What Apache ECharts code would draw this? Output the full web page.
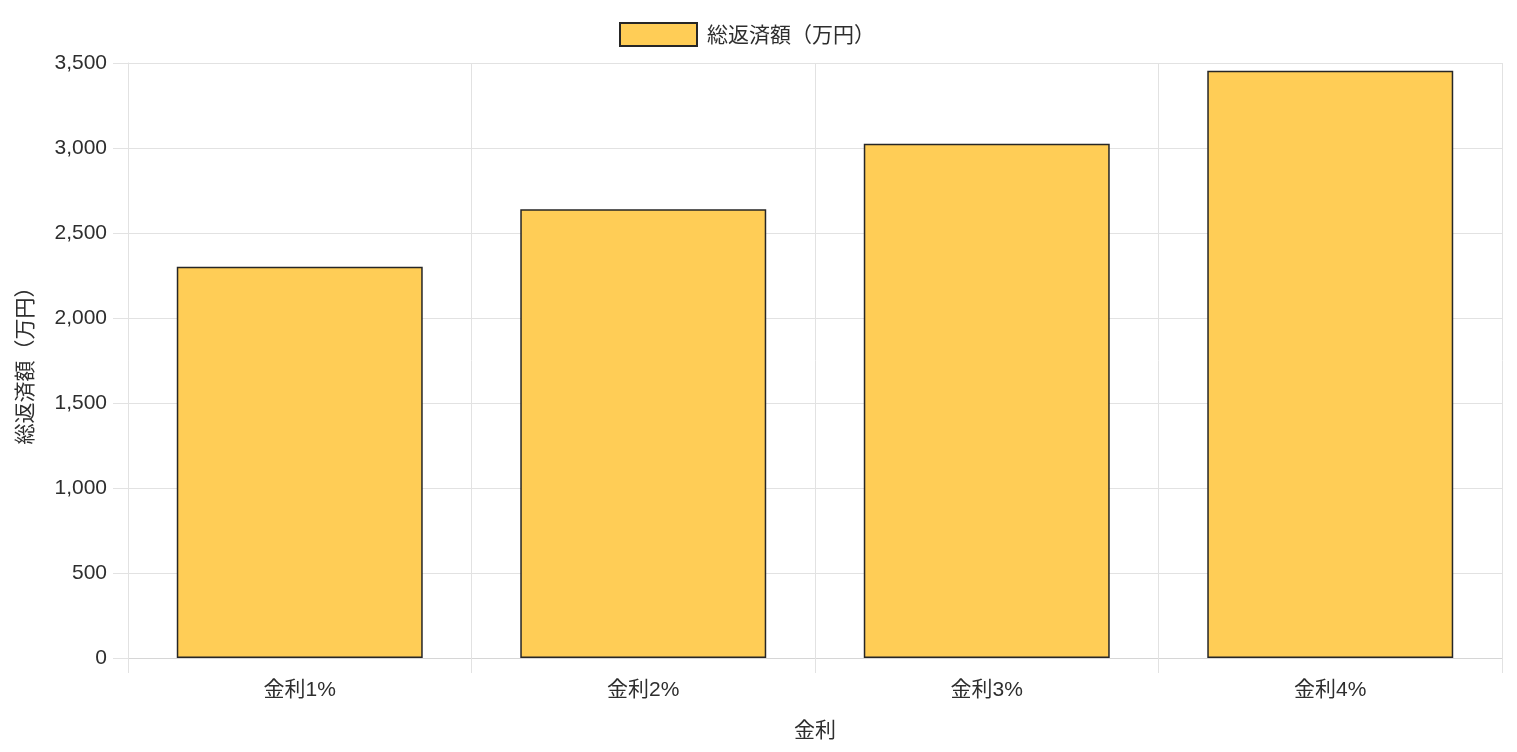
<!DOCTYPE html>
<html>
<head>
<meta charset="utf-8">
<script src="https://cdn.jsdelivr.net/npm/echarts@6/dist/echarts.min.js"></script>
<style>
html,body{margin:0;padding:0;background:#fff;}
#chart{width:1517px;height:752px;}
</style>
</head>
<body>
<div id="chart"></div>
<script>
const categories = ['金利1%', '金利2%', '金利3%', '金利4%'];
const totalRepayment = [2302, 2639, 3025, 3455];
const seriesName = '総返済額（万円）';
const yAxisTitle = '総返済額（万円）';
const xAxisTitle = '金利';

const FONT = "'Liberation Sans', Arial, 'Noto Sans CJK JP', sans-serif";
const CJK = "'Noto Sans CJK JP', 'Liberation Sans', sans-serif";
const TEXT = '#2e2e2e';
const GRID = '#e2e2e2';

const chart = echarts.init(document.getElementById('chart'), null, {renderer: 'canvas'});
chart.setOption({
  animation: false,
  textStyle: {fontFamily: FONT},
  legend: {
    top: 17,
    left: 614,
    icon: 'rect',
    itemWidth: 77,
    itemHeight: 23,
    itemGap: 10,
    textStyle: {fontSize: 21, color: TEXT, fontFamily: CJK, padding: [0, 0, 0, 5]},
    data: [seriesName]
  },
  grid: {left: 128, right: 15, top: 63, bottom: 94, containLabel: false},
  xAxis: {
    type: 'category',
    data: categories,
    boundaryGap: true,
    name: xAxisTitle,
    nameLocation: 'middle',
    nameGap: 61,
    nameTextStyle: {fontSize: 21, color: TEXT, fontFamily: CJK},
    axisLine: {show: true, lineStyle: {color: '#d6d6d6', width: 1}},
    axisTick: {show: true, length: 15, lineStyle: {color: GRID}},
    splitLine: {show: true, lineStyle: {color: GRID}},
    axisLabel: {fontSize: 21, color: TEXT, margin: 22, fontFamily: FONT}
  },
  yAxis: {
    type: 'value',
    min: 0,
    max: 3500,
    interval: 500,
    name: yAxisTitle,
    nameLocation: 'middle',
    nameGap: 93,
    nameTextStyle: {fontSize: 21, color: TEXT, fontFamily: CJK},
    axisLine: {show: true, lineStyle: {color: GRID, width: 1}},
    axisTick: {show: true, length: 15, lineStyle: {color: GRID}},
    splitLine: {show: true, lineStyle: {color: GRID}},
    axisLabel: {
      fontSize: 21, color: TEXT, margin: 21, fontFamily: FONT,
      formatter: v => v.toLocaleString('en-US')
    }
  },
  series: [{
    name: seriesName,
    type: 'bar',
    data: totalRepayment,
    barCategoryGap: '28.4%',
    itemStyle: {color: '#FFCD56', borderColor: '#262626', borderWidth: 1.5}
  }]
});
</script>
</body>
</html>
